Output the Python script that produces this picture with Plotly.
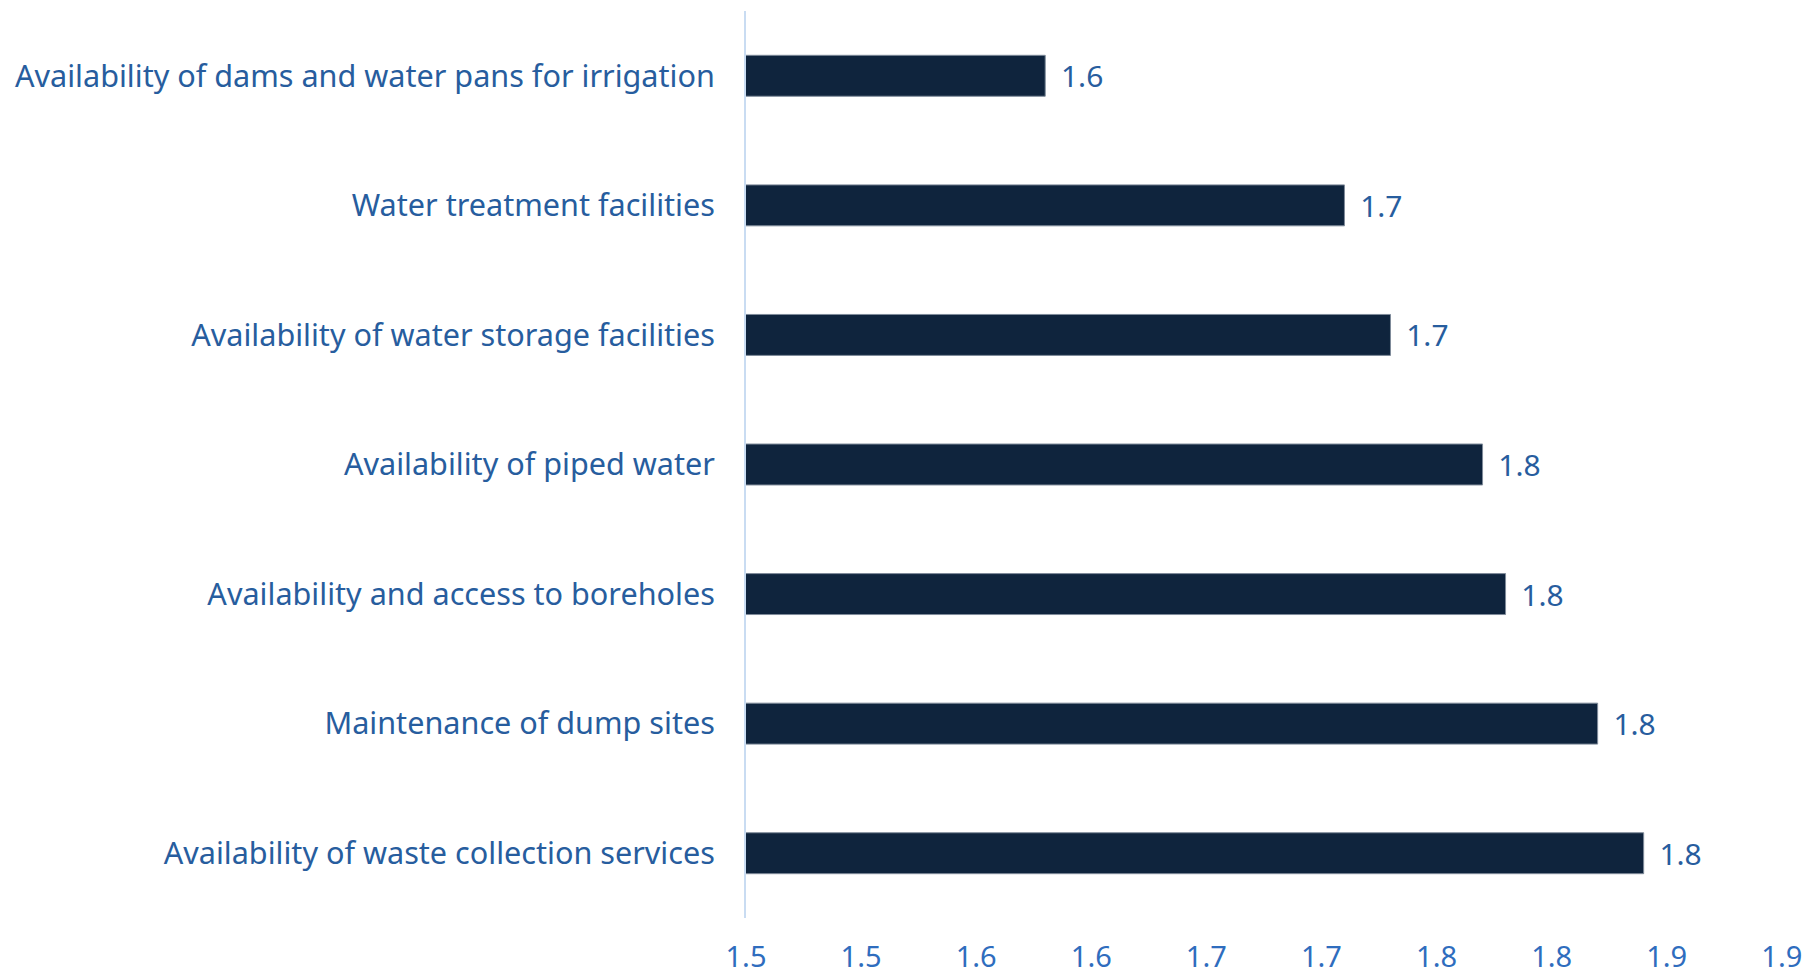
import plotly.graph_objects as go

# categories top to bottom
categories = [
    "Availability of dams and water pans for irrigation",
    "Water treatment facilities",
    "Availability of water storage facilities",
    "Availability of piped water",
    "Availability and access to boreholes",
    "Maintenance of dump sites",
    "Availability of waste collection services",
]
values = [1.63, 1.76, 1.78, 1.82, 1.83, 1.87, 1.89]
# labels as shown on the chart (one decimal, cut off, not rounded)
value_labels = ["1.6", "1.7", "1.7", "1.8", "1.8", "1.8", "1.8"]

tick_vals = [1.50, 1.55, 1.60, 1.65, 1.70, 1.75, 1.80, 1.85, 1.90, 1.95]
tick_text = ["1.5", "1.5", "1.6", "1.6", "1.7", "1.7", "1.8", "1.8", "1.9", "1.9"]

label_blue = "#275D9E"
tick_blue = "#2F6DBE"
bar_navy = "#0F243D"
font_name = "Noto Sans"

fig = go.Figure()
fig.add_trace(go.Bar(
    x=values,
    y=categories,
    orientation="h",
    marker=dict(color=bar_navy, line=dict(color="#7F8B9A", width=1)),
    text=["\u00a0\u2009" + t for t in value_labels],
    textposition="outside",
    textfont=dict(color=label_blue, size=30, family=font_name),
    cliponaxis=False,
    hoverinfo="skip",
))

fig.update_layout(
    width=1806,
    height=970,
    margin=dict(l=746, r=24, t=11, b=52),
    plot_bgcolor="white",
    paper_bgcolor="white",
    bargap=0.684,
    showlegend=False,
    font=dict(family=font_name, color=label_blue),
)

fig.update_xaxes(
    range=[1.5, 1.9501],
    tickvals=tick_vals,
    ticktext=tick_text,
    showgrid=False,
    zeroline=False,
    showline=False,
    ticks="",
    ticklabelstandoff=19,
    ticklabeloverflow="allow",
    tickfont=dict(size=29, color=tick_blue, family=font_name),
    automargin=False,
)

fig.update_yaxes(
    autorange="reversed",
    showgrid=False,
    showline=True,
    linecolor="#C9DCF2",
    linewidth=2,
    ticks="",
    ticklabelstandoff=23,
    tickfont=dict(size=30.6, color=label_blue, family=font_name),
    automargin=False,
)

# drop the default 8px page margin so the figure fills the window exactly
fig.write_html(
    "out.html",
    config={"displayModeBar": False},
    post_script="document.body.style.margin = '0';",
)
